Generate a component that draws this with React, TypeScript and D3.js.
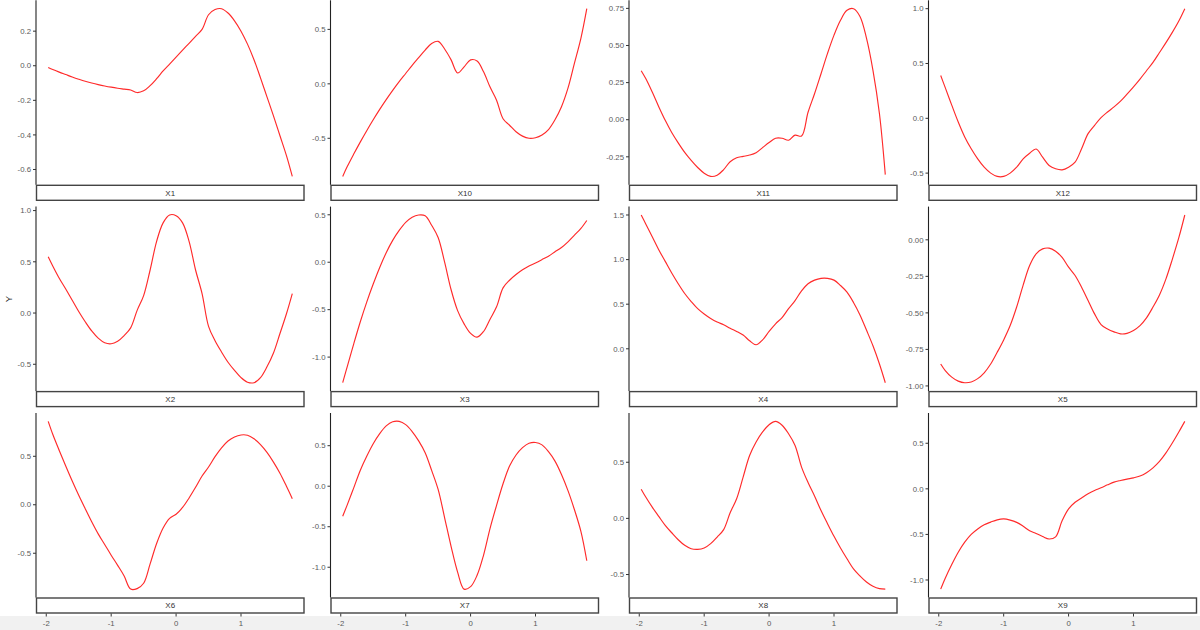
import React from "react";
import * as d3 from "d3";

// Shared x grid
const xs = [-1.97, -1.9, -1.8, -1.7, -1.6, -1.5, -1.4, -1.3, -1.2, -1.1, -1.0, -0.9, -0.8, -0.7, -0.6, -0.5, -0.4, -0.3, -0.2, -0.1, 0, 0.1, 0.2, 0.3, 0.4, 0.5, 0.6, 0.7, 0.8, 0.9, 1.0, 1.1, 1.2, 1.3, 1.4, 1.5, 1.6, 1.7, 1.79];

const panelNames = ["X1", "X10", "X11", "X12", "X2", "X3", "X4", "X5", "X6", "X7", "X8", "X9"];

const yX1 = [-0.01, -0.022, -0.037, -0.051, -0.065, -0.078, -0.09, -0.1, -0.109, -0.117, -0.124, -0.13, -0.135, -0.14, -0.155, -0.145, -0.115, -0.075, -0.03, 0.01, 0.05, 0.09, 0.13, 0.17, 0.21, 0.295, 0.325, 0.33, 0.305, 0.26, 0.2, 0.125, 0.035, -0.07, -0.18, -0.29, -0.405, -0.52, -0.64];
const yX10 = [-0.85, -0.76, -0.645, -0.535, -0.43, -0.33, -0.235, -0.145, -0.06, 0.02, 0.095, 0.17, 0.24, 0.31, 0.37, 0.39, 0.32, 0.22, 0.1, 0.156, 0.22, 0.21, 0.11, -0.03, -0.15, -0.32, -0.38, -0.44, -0.48, -0.5, -0.495, -0.47, -0.42, -0.33, -0.21, -0.04, 0.19, 0.42, 0.69];
const yX11 = [0.33, 0.277, 0.186, 0.088, -0.004, -0.086, -0.156, -0.22, -0.274, -0.322, -0.36, -0.382, -0.374, -0.336, -0.283, -0.256, -0.247, -0.238, -0.222, -0.188, -0.154, -0.125, -0.125, -0.138, -0.104, -0.11, 0.05, 0.175, 0.31, 0.447, 0.57, 0.67, 0.737, 0.748, 0.696, 0.55, 0.333, 0.04, -0.37];
const yX12 = [0.39, 0.28, 0.12, -0.034, -0.17, -0.278, -0.37, -0.446, -0.5, -0.53, -0.53, -0.5, -0.446, -0.37, -0.318, -0.28, -0.355, -0.43, -0.46, -0.47, -0.446, -0.4, -0.278, -0.14, -0.064, 0.006, 0.058, 0.104, 0.156, 0.22, 0.287, 0.358, 0.434, 0.51, 0.6, 0.69, 0.786, 0.89, 1.0];
const yX2 = [0.55, 0.46, 0.34, 0.235, 0.125, 0.015, -0.085, -0.175, -0.245, -0.29, -0.3, -0.275, -0.22, -0.145, 0.026, 0.17, 0.42, 0.7, 0.88, 0.957, 0.95, 0.88, 0.7, 0.42, 0.19, -0.13, -0.27, -0.38, -0.48, -0.56, -0.63, -0.675, -0.68, -0.63, -0.525, -0.39, -0.2, -0.007, 0.19];
const yX3 = [-1.27, -1.1, -0.86, -0.63, -0.42, -0.23, -0.055, 0.1, 0.23, 0.335, 0.42, 0.475, 0.498, 0.49, 0.39, 0.26, 0.0, -0.29, -0.51, -0.65, -0.75, -0.79, -0.73, -0.6, -0.47, -0.27, -0.19, -0.13, -0.08, -0.04, -0.007, 0.028, 0.064, 0.11, 0.155, 0.215, 0.286, 0.357, 0.44];
const yX4 = [1.5, 1.4, 1.256, 1.11, 0.98, 0.85, 0.73, 0.62, 0.53, 0.45, 0.39, 0.34, 0.3, 0.27, 0.23, 0.195, 0.154, 0.09, 0.045, 0.1, 0.195, 0.28, 0.35, 0.45, 0.54, 0.65, 0.73, 0.77, 0.79, 0.79, 0.77, 0.71, 0.635, 0.52, 0.38, 0.21, 0.034, -0.17, -0.38];
const yX5 = [-0.85, -0.895, -0.94, -0.967, -0.978, -0.973, -0.95, -0.91, -0.85, -0.77, -0.685, -0.587, -0.46, -0.31, -0.176, -0.096, -0.062, -0.057, -0.078, -0.12, -0.187, -0.244, -0.324, -0.415, -0.507, -0.58, -0.61, -0.63, -0.644, -0.64, -0.62, -0.587, -0.534, -0.46, -0.377, -0.267, -0.13, 0.018, 0.17];
const yX6 = [0.86, 0.727, 0.56, 0.4, 0.245, 0.098, -0.04, -0.175, -0.3, -0.41, -0.52, -0.625, -0.735, -0.87, -0.865, -0.81, -0.61, -0.4, -0.24, -0.14, -0.098, -0.028, 0.07, 0.18, 0.297, 0.39, 0.496, 0.587, 0.657, 0.7, 0.72, 0.717, 0.68, 0.62, 0.54, 0.44, 0.325, 0.19, 0.063];
const yX7 = [-0.37, -0.23, -0.02, 0.195, 0.37, 0.525, 0.65, 0.745, 0.795, 0.8, 0.76, 0.675, 0.56, 0.414, 0.195, -0.04, -0.39, -0.745, -1.06, -1.27, -1.24, -1.1, -0.85, -0.52, -0.236, 0.03, 0.248, 0.385, 0.476, 0.53, 0.54, 0.51, 0.426, 0.31, 0.145, -0.054, -0.29, -0.56, -0.92];
const yX8 = [0.26, 0.19, 0.1, 0.018, -0.062, -0.128, -0.19, -0.24, -0.27, -0.276, -0.264, -0.225, -0.166, -0.1, 0.05, 0.175, 0.368, 0.56, 0.68, 0.77, 0.834, 0.864, 0.83, 0.754, 0.65, 0.457, 0.32, 0.2, 0.07, -0.047, -0.16, -0.264, -0.36, -0.45, -0.513, -0.567, -0.605, -0.626, -0.63];
const yX9 = [-1.1, -0.98, -0.83, -0.695, -0.585, -0.5, -0.44, -0.394, -0.365, -0.34, -0.33, -0.343, -0.368, -0.41, -0.46, -0.49, -0.523, -0.55, -0.527, -0.35, -0.22, -0.147, -0.1, -0.055, -0.018, 0.011, 0.044, 0.074, 0.092, 0.107, 0.12, 0.14, 0.177, 0.23, 0.3, 0.394, 0.505, 0.626, 0.74];

const seriesValues = [yX1, yX10, yX11, yX12, yX2, yX3, yX4, yX5, yX6, yX7, yX8, yX9];

const yTicksX1 = ["0.2", "0.0", "-0.2", "-0.4", "-0.6"];
const yTicksX10 = ["0.5", "0.0", "-0.5"];
const yTicksX11 = ["0.75", "0.50", "0.25", "0.00", "-0.25"];
const yTicksX12 = ["1.0", "0.5", "0.0", "-0.5"];
const yTicksX2 = ["1.0", "0.5", "0.0", "-0.5"];
const yTicksX3 = ["0.5", "0.0", "-0.5", "-1.0"];
const yTicksX4 = ["1.5", "1.0", "0.5", "0.0"];
const yTicksX5 = ["0.00", "-0.25", "-0.50", "-0.75", "-1.00"];
const yTicksX6 = ["0.5", "0.0", "-0.5"];
const yTicksX7 = ["0.5", "0.0", "-0.5", "-1.0"];
const yTicksX8 = ["0.5", "0.0", "-0.5"];
const yTicksX9 = ["0.5", "0.0", "-0.5", "-1.0"];
const yTickSets = [yTicksX1, yTicksX10, yTicksX11, yTicksX12, yTicksX2, yTicksX3, yTicksX4, yTicksX5, yTicksX6, yTicksX7, yTicksX8, yTicksX9];

const xTickLabels = ["-2", "-1", "0", "1"];

// layout
const W = 1200;
const H = 630;
const colLefts = [36, 330.5, 629, 928.5];
const rowTops = [0.3, 206.6, 413];
const panelW = 268.5;
const panelH = 184.5;
const stripH = 16;
const FONT = "'Liberation Sans', Arial, Helvetica, sans-serif";

function Panel({ idx }: { idx: number }) {
  const col = idx % 4;
  const row = Math.floor(idx / 4);
  const x0 = colLefts[col];
  const y0 = rowTops[row];
  const vals = seriesValues[idx];
  const xMin = d3.min(xs)!, xMax = d3.max(xs)!;
  const xPad = (xMax - xMin) * 0.05;
  const yMin = d3.min(vals)!, yMax = d3.max(vals)!;
  const yPad = (yMax - yMin) * 0.05;
  const xScale = d3.scaleLinear().domain([xMin - xPad, xMax + xPad]).range([x0, x0 + panelW]);
  const yScale = d3.scaleLinear().domain([yMin - yPad, yMax + yPad]).range([y0 + panelH, y0]);
  const line = d3
    .line<number>()
    .x((_, i) => xScale(xs[i]))
    .y((d) => yScale(d))
    .curve(d3.curveCatmullRom.alpha(0.5));
  const ticks = yTickSets[idx];
  const stripY = y0 + panelH;
  return (
    <g>
      <path d={line(vals) || ""} fill="none" stroke="#ff2a2a" strokeWidth={1.15} />
      <line x1={x0} x2={x0} y1={y0} y2={y0 + panelH} stroke="#222" strokeWidth={1.1} />
      {ticks.map((t) => {
        const yy = yScale(parseFloat(t));
        return (
          <g key={t}>
            <line x1={x0 - 3} x2={x0} y1={yy} y2={yy} stroke="#333" strokeWidth={1} />
            <text x={x0 - 5} y={yy} dy="0.35em" textAnchor="end" fontSize={7.8} fill="#5a5a5a" fontFamily={FONT}>
              {t}
            </text>
          </g>
        );
      })}
      <rect x={x0 + 0.5} y={stripY + 0.5} width={panelW - 1} height={stripH - 1} fill="#fff" stroke="#444" strokeWidth={1.4} />
      <text x={x0 + panelW / 2} y={stripY + stripH / 2} dy="0.35em" textAnchor="middle" fontSize={8} fill="#333" fontFamily={FONT}>
        {panelNames[idx]}
      </text>
      {row === 2 &&
        xTickLabels.map((t) => {
          const xx = xScale(parseFloat(t));
          const ay = stripY + stripH;
          return (
            <g key={t}>
              <line x1={xx} x2={xx} y1={ay} y2={ay + 3} stroke="#333" strokeWidth={1} />
              <text x={xx} y={ay + 10} dy="0.35em" textAnchor="middle" fontSize={7.8} fill="#5a5a5a" fontFamily={FONT}>
                {t}
              </text>
            </g>
          );
        })}
    </g>
  );
}

export default function App() {
  return (
    <svg
      width={W}
      height={H}
      viewBox={`0 0 ${W} ${H}`}
      style={{ position: "absolute", left: 0, top: 0, background: "#fff" }}
    >
      <rect x={0} y={0} width={W} height={H} fill="#fff" />
      <rect x={0} y={616} width={W} height={14} fill="#f1f1f1" />
      {panelNames.map((_, i) => (
        <Panel key={i} idx={i} />
      ))}
      <text
        transform={`translate(8.5,299) rotate(-90)`}
        textAnchor="middle"
        dy="0.35em"
        fontSize={9.5}
        fill="#1a1a1a"
        fontFamily={FONT}
      >
        Y
      </text>
    </svg>
  );
}
